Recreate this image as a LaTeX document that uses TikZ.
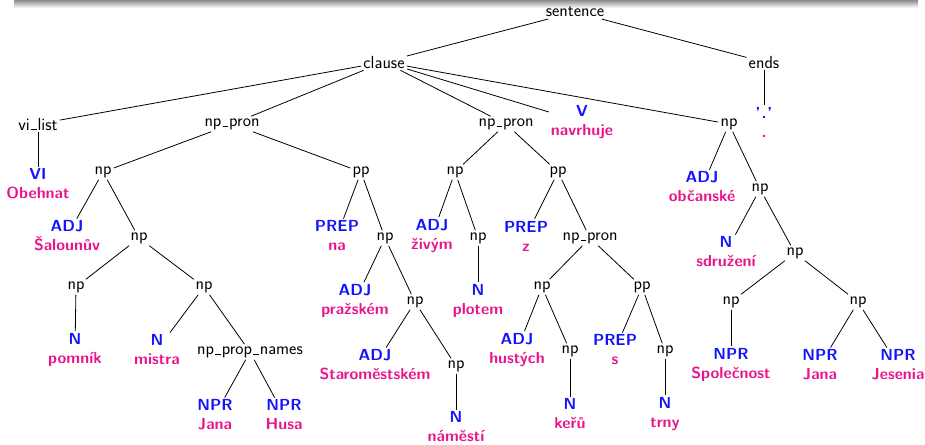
\documentclass[tikz,border=0pt]{standalone}
\definecolor{catblue}{RGB}{20,20,250}
\definecolor{wordpink}{RGB}{232,22,140}
\tikzset{
  inner/.style={font=\sffamily\fontsize{17.5}{20}\selectfont, inner sep=2pt},
  leaf/.style={font=\sffamily\bfseries\fontsize{16}{19}\selectfont, inner sep=2pt, align=center},
  edge/.style={line width=0.8pt}
}
\newcommand{\lf}[2]{\textcolor{catblue}{#1}\\\textcolor{wordpink}{#2}}
\newcommand{\us}{\kern.06em\vbox{\hrule width.32em height 0.6pt}\kern.06em}
\begin{document}
\begin{tikzpicture}[x=1pt,y=-1pt]
\useasboundingbox (0,0) rectangle (925,444);
\shade[top color=black!45, bottom color=white] (14,0) rectangle (918,8);
% level 0-1
\node[inner] (S) at (575,12) {sentence};
\node[inner] (C) at (384,62) {clause};
\node[inner] (E) at (764,62) {ends};
% level 2
\node[inner] (VL) at (38,124) {vi\us list};
\node[inner] (NPL) at (232,124) {np\us pron};
\node[inner] (NPM) at (506,124) {np\us pron};
\node[leaf] (V) at (582,122) {\lf{V}{navrhuje}};
\node[inner] (NPR) at (729,124) {np};
\node[leaf] (DOT) at (764,122) {\lf{{'}\kern1pt.\kern1pt{'}}{.}};
% level 3
\node[leaf] (VI) at (38,184) {\lf{VI}{Obehnat}};
\node[inner] (a1) at (103,172) {np};
\node[inner] (a2) at (361,172) {pp};
\node[inner] (b1) at (455,172) {np};
\node[inner] (b2) at (558,172) {pp};
\node[leaf] (c1) at (702,187) {\lf{ADJ}{občanské}};
\node[inner] (c2) at (760,189) {np};
% under a1
\node[leaf] (a11) at (67,236) {\lf{ADJ}{Šalounův}};
\node[inner] (a12) at (139,238) {np};
\node[inner] (a121) at (76,287) {np};
\node[inner] (a122) at (204,287) {np};
\node[leaf] (a1211) at (75,350) {\lf{N}{pomník}};
\node[leaf] (a1221) at (157,350) {\lf{N}{mistra}};
\node[inner] (a1222) at (250,352) {np\us prop\us names};
\node[leaf] (j1) at (215,415) {\lf{NPR}{Jana}};
\node[leaf] (h1) at (284,415) {\lf{NPR}{Husa}};
% under a2
\node[leaf] (a21) at (337,236) {\lf{PREP}{na}};
\node[inner] (a22) at (385,238) {np};
\node[leaf] (a221) at (355,301) {\lf{ADJ}{pražském}};
\node[inner] (a222) at (415,302) {np};
\node[leaf] (a2221) at (375,365) {\lf{ADJ}{Staroměstském}};
\node[inner] (a2222) at (456,366) {np};
\node[leaf] (a22221) at (456,427) {\lf{N}{náměstí}};
% under b1
\node[leaf] (b11) at (432,236) {\lf{ADJ}{živým}};
\node[inner] (b12) at (478,238) {np};
\node[leaf] (b121) at (478,301) {\lf{N}{plotem}};
% under b2
\node[leaf] (b21) at (526,236) {\lf{PREP}{z}};
\node[inner] (b22) at (590,238) {np\us pron};
\node[inner] (b221) at (542,287) {np};
\node[inner] (b222) at (642,287) {pp};
\node[leaf] (b2211) at (517,350) {\lf{ADJ}{hustých}};
\node[inner] (b2212) at (570,351) {np};
\node[leaf] (b22121) at (570,414) {\lf{N}{keřů}};
\node[leaf] (b2221) at (615,350) {\lf{PREP}{s}};
\node[inner] (b2222) at (665,351) {np};
\node[leaf] (b22221) at (665,414) {\lf{N}{trny}};
% under c2
\node[leaf] (c21) at (726,252) {\lf{N}{sdružení}};
\node[inner] (c22) at (795,253) {np};
\node[inner] (c221) at (731,302) {np};
\node[inner] (c222) at (858,302) {np};
\node[leaf] (c2211) at (731,365) {\lf{NPR}{Společnost}};
\node[leaf] (c2221) at (820,365) {\lf{NPR}{Jana}};
\node[leaf] (c2222) at (898,365) {\lf{NPR}{Jesenia}};
% edges
\begin{scope}[edge]
\draw (S) -- (C); \draw (S) -- (E);
\draw (C) -- (VL); \draw (C) -- (NPL); \draw (C) -- (NPM); \draw (C) -- (V); \draw (C) -- (NPR);
\draw (E) -- (DOT);
\draw (VL) -- (VI);
\draw (NPL) -- (a1); \draw (NPL) -- (a2);
\draw (NPM) -- (b1); \draw (NPM) -- (b2);
\draw (NPR) -- (c1); \draw (NPR) -- (c2);
\draw (a1) -- (a11); \draw (a1) -- (a12);
\draw (a12) -- (a121); \draw (a12) -- (a122);
\draw (a121) -- (a1211);
\draw (a122) -- (a1221); \draw (a122) -- (a1222);
\draw (a1222) -- (j1); \draw (a1222) -- (h1);
\draw (a2) -- (a21); \draw (a2) -- (a22);
\draw (a22) -- (a221); \draw (a22) -- (a222);
\draw (a222) -- (a2221); \draw (a222) -- (a2222);
\draw (a2222) -- (a22221);
\draw (b1) -- (b11); \draw (b1) -- (b12);
\draw (b12) -- (b121);
\draw (b2) -- (b21); \draw (b2) -- (b22);
\draw (b22) -- (b221); \draw (b22) -- (b222);
\draw (b221) -- (b2211); \draw (b221) -- (b2212);
\draw (b2212) -- (b22121);
\draw (b222) -- (b2221); \draw (b222) -- (b2222);
\draw (b2222) -- (b22221);
\draw (c2) -- (c21); \draw (c2) -- (c22);
\draw (c22) -- (c221); \draw (c22) -- (c222);
\draw (c221) -- (c2211);
\draw (c222) -- (c2221); \draw (c222) -- (c2222);
\end{scope}
\end{tikzpicture}
\end{document}
